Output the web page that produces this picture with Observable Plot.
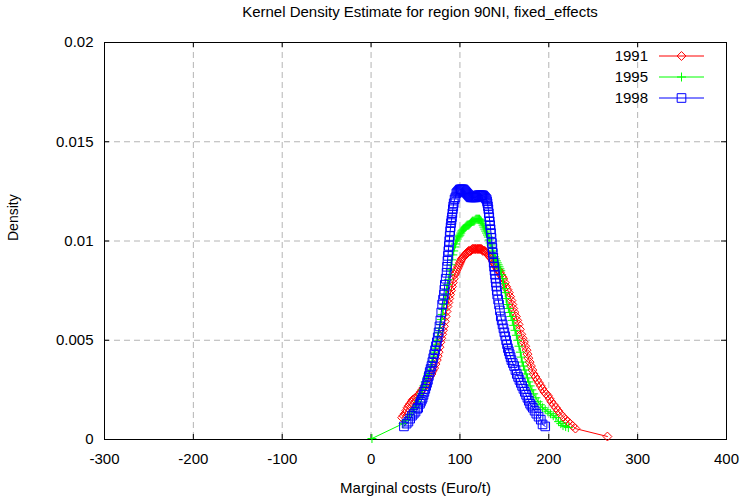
<!DOCTYPE html>
<html>
<head>
<meta charset="utf-8">
<script src="https://cdn.jsdelivr.net/npm/d3@7"></script>
<script src="https://cdn.jsdelivr.net/npm/@observablehq/plot@0.6"></script>
<style>
  html, body { margin: 0; padding: 0; background: #fff; }
  body { width: 741px; height: 501px; overflow: hidden; font-family: "Liberation Sans", Arial, sans-serif; }
  #title { height: 24px; line-height: 24px; font-size: 15px; text-align: center; padding-left: 99px; color: #000; }
</style>
</head>
<body>
<div id="title">Kernel Density Estimate for region 90NI, fixed_effects</div>
<div id="chart"></div>
<script>
// ---- data ----
const years = ["1991", "1995", "1998"];
const xTicks = [-300, -200, -100, 0, 100, 200, 300, 400];
const yTicks = [0, 0.005, 0.01, 0.015, 0.02];

const x1991 = [35, 36.5, 38, 39.5, 41, 42.5, 44, 45.5, 47, 48.5, 50, 51.5, 53, 54.5, 56, 57.5, 59, 60.5, 62, 63.5, 65, 66.5, 68, 69.5, 71, 72.5, 74, 75, 76, 77, 78, 79, 80, 81, 82, 83, 84, 85, 86, 87, 88, 89, 90, 91, 92, 93, 94, 95, 96, 97, 98, 99, 100, 101, 102, 103, 104, 105, 106, 107, 108, 109, 110, 111, 112, 113, 114, 115, 116, 117, 118, 119, 120, 121, 122, 123, 124, 125, 126, 127, 128, 129, 130, 131, 132, 133, 134, 135, 136, 137, 138, 139, 140, 141, 142, 143, 144, 145, 146, 147.5, 149, 150.5, 152, 153.5, 155, 156.5, 158, 159, 160, 161.5, 163, 164.5, 166, 167.5, 169, 170.5, 172, 173.5, 175, 176, 177, 178.5, 180, 181.5, 183, 185, 187, 189, 191, 193, 195, 197, 199, 201, 203, 205.5, 208, 210.5, 213, 216, 219, 221.5, 224, 227, 230, 266];
const y1991 = [0.0011, 0.0012, 0.0013, 0.00145, 0.0016, 0.0017, 0.0018, 0.0019, 0.0020, 0.00205, 0.0021, 0.00215, 0.0022, 0.0023, 0.0024, 0.0025, 0.0026, 0.0027, 0.0028, 0.00295, 0.0031, 0.0032, 0.0033, 0.00345, 0.0036, 0.0038, 0.0040, 0.0042, 0.0044, 0.00465, 0.0049, 0.0051, 0.0053, 0.0055, 0.0057, 0.00595, 0.0062, 0.00645, 0.0067, 0.0069, 0.0071, 0.0073, 0.0075, 0.0077, 0.0079, 0.0081, 0.0083, 0.0084, 0.0085, 0.0086, 0.0087, 0.0088, 0.0089, 0.0090, 0.0091, 0.00915, 0.0092, 0.00925, 0.0093, 0.00935, 0.0094, 0.00945, 0.0095, 0.0095, 0.0095, 0.00955, 0.0096, 0.0096, 0.0096, 0.0096, 0.0096, 0.0096, 0.0096, 0.0096, 0.0096, 0.0096, 0.0096, 0.00955, 0.0095, 0.0095, 0.0095, 0.00945, 0.0094, 0.00935, 0.0093, 0.00925, 0.0092, 0.00915, 0.0091, 0.0090, 0.0089, 0.00885, 0.0088, 0.0087, 0.0086, 0.00855, 0.0085, 0.0084, 0.0083, 0.0082, 0.0081, 0.0079, 0.0077, 0.00755, 0.0074, 0.0072, 0.0070, 0.0068, 0.0066, 0.0064, 0.0062, 0.0060, 0.0058, 0.00555, 0.0053, 0.0051, 0.0049, 0.0047, 0.0045, 0.0043, 0.0041, 0.0039, 0.0037, 0.0035, 0.0033, 0.00315, 0.0030, 0.00285, 0.0027, 0.00255, 0.0024, 0.0023, 0.0022, 0.00205, 0.0019, 0.00175, 0.0016, 0.00145, 0.0013, 0.00115, 0.0010, 0.0009, 0.0008, 0.00068, 0.00055, 0.00015];

const x1995 = [1, 36, 39, 42, 44, 47, 49, 51, 53, 55, 56.5, 58, 59.5, 61, 62.5, 64, 65.5, 67, 68.5, 70, 71, 72, 73, 74, 75, 76, 77, 78, 79, 80, 81, 82, 83, 84, 85, 86, 87, 88, 89, 90, 91, 92, 93, 94, 95, 96, 97, 98, 99, 100, 101, 102, 103, 104, 105, 106, 107, 108, 109, 110, 111, 112, 113, 114, 115, 116, 117, 118, 119, 120, 121, 122, 123, 124, 125, 126, 127, 128, 129, 130, 131, 132, 133, 134, 135, 136, 137, 138, 139, 140, 141, 142, 143, 144, 145, 146, 147, 148, 149, 150, 151, 152, 153, 154.5, 156, 157.5, 159, 160.5, 162, 163.5, 165, 166.5, 168, 169, 170, 171.5, 173, 174.5, 176, 177.5, 179, 181, 183, 185.5, 188, 190.5, 193, 196, 199, 202, 205, 208, 211, 213.5, 216, 219, 222];
const y1995 = [0.00005, 0.0008, 0.00095, 0.0011, 0.00125, 0.0014, 0.00155, 0.0017, 0.0019, 0.0021, 0.0023, 0.0025, 0.0027, 0.0029, 0.0031, 0.0033, 0.0035, 0.0037, 0.00395, 0.0042, 0.0044, 0.0046, 0.0048, 0.0050, 0.0052, 0.0054, 0.0056, 0.0058, 0.00605, 0.0063, 0.00655, 0.0068, 0.00705, 0.0073, 0.00755, 0.0078, 0.00805, 0.0083, 0.00855, 0.0088, 0.00905, 0.0093, 0.0095, 0.0097, 0.00985, 0.0100, 0.0101, 0.0102, 0.01025, 0.0103, 0.0104, 0.0105, 0.01055, 0.0106, 0.01065, 0.0107, 0.01075, 0.0108, 0.0108, 0.0108, 0.01085, 0.0109, 0.01095, 0.0110, 0.0110, 0.0110, 0.01105, 0.0111, 0.0111, 0.0111, 0.0111, 0.0111, 0.01105, 0.0110, 0.0109, 0.0108, 0.0107, 0.0106, 0.0105, 0.0104, 0.0103, 0.0102, 0.01005, 0.0099, 0.0098, 0.00965, 0.0095, 0.00935, 0.0092, 0.0091, 0.0090, 0.0089, 0.0088, 0.0087, 0.0086, 0.0085, 0.0083, 0.0081, 0.00785, 0.0076, 0.0074, 0.0071, 0.0068, 0.0066, 0.0064, 0.0062, 0.0060, 0.00575, 0.0055, 0.00525, 0.0050, 0.0047, 0.0044, 0.00415, 0.0039, 0.0037, 0.0035, 0.0033, 0.0031, 0.0029, 0.0027, 0.0025, 0.0023, 0.0021, 0.0019, 0.00175, 0.0016, 0.0015, 0.0014, 0.0013, 0.0012, 0.0011, 0.0009, 0.0008, 0.0007, 0.00065, 0.0006];

const x1998 = [37, 40, 42, 44, 46, 48, 50, 52, 53, 55, 56, 57, 58, 59, 60, 61, 62, 63, 64, 65, 66, 67, 68, 69, 70, 71, 72, 73, 74, 75, 76, 77, 78, 79, 80, 81, 82, 82.5, 83, 84, 85, 85.5, 86, 86.5, 87, 87.5, 88, 88.5, 89, 89.5, 90, 90.5, 91, 91.5, 92, 92.5, 93, 94, 95, 96, 97, 98, 99, 100, 101, 102, 103, 104, 105, 106, 107, 108, 109, 110, 111, 112, 113, 114, 115, 116, 117, 118, 119, 120, 121, 122, 123, 124, 125, 126, 127, 128, 129, 130, 130.5, 131, 131.5, 132, 132.5, 133, 133.5, 134, 134.5, 135, 135.5, 136, 136.5, 137, 137.5, 138, 138.5, 139, 139.5, 140, 140.5, 141, 141.5, 142, 143, 144, 145, 146, 147, 148, 149, 150, 151, 152, 153, 154, 155, 156, 157, 158, 159.5, 161, 162.5, 164, 165.5, 167, 168.5, 170, 171.5, 173, 174.5, 176, 177.5, 179, 180.5, 182, 184, 186, 188.5, 191, 193, 196];
const y1998 = [0.00066, 0.0008, 0.0009, 0.00105, 0.0012, 0.0013, 0.0014, 0.00155, 0.0016, 0.0018, 0.0019, 0.0020, 0.0021, 0.00225, 0.0024, 0.00255, 0.0027, 0.00285, 0.0030, 0.0032, 0.0034, 0.00355, 0.0037, 0.0039, 0.0041, 0.0043, 0.0045, 0.0047, 0.0049, 0.00515, 0.0054, 0.0057, 0.0060, 0.0064, 0.0068, 0.00705, 0.0073, 0.00755, 0.0078, 0.0081, 0.0084, 0.0087, 0.0090, 0.00925, 0.0095, 0.00975, 0.0100, 0.01025, 0.0105, 0.0107, 0.0109, 0.01105, 0.0112, 0.0114, 0.0116, 0.01175, 0.0119, 0.0121, 0.0122, 0.0124, 0.01245, 0.0125, 0.01255, 0.0126, 0.0126, 0.0126, 0.0126, 0.0126, 0.01255, 0.0125, 0.01245, 0.0124, 0.01235, 0.0123, 0.01225, 0.0122, 0.0122, 0.0122, 0.0122, 0.0122, 0.0122, 0.0122, 0.01225, 0.0123, 0.0123, 0.0123, 0.0123, 0.0123, 0.0123, 0.0123, 0.01225, 0.0122, 0.01215, 0.0121, 0.0120, 0.0119, 0.01175, 0.0116, 0.0114, 0.0112, 0.0110, 0.0108, 0.0106, 0.0104, 0.01015, 0.0099, 0.00965, 0.0094, 0.00915, 0.0089, 0.0087, 0.0085, 0.0083, 0.0081, 0.0079, 0.0077, 0.0075, 0.0073, 0.00705, 0.0068, 0.0065, 0.0062, 0.0060, 0.0058, 0.0056, 0.0054, 0.0052, 0.0050, 0.0048, 0.0046, 0.00445, 0.0043, 0.00415, 0.0040, 0.00385, 0.0037, 0.0035, 0.0033, 0.00315, 0.0030, 0.00285, 0.0027, 0.00255, 0.0024, 0.00225, 0.0021, 0.00195, 0.0018, 0.0017, 0.0016, 0.00145, 0.0013, 0.00115, 0.0010, 0.00076, 0.00066];

// ---- styling ----
const colors = ["#ff0000", "#00ff00", "#0000ff"];
const plotSymbols = ["diamond2", "plus", "square2"];
const symbolR = [4, 3, 5.5];
const d3Symbols = [d3.symbolDiamond2, d3.symbolPlus, d3.symbolSquare2];

const seriesX = [x1991, x1995, x1998];
const seriesY = [y1991, y1995, y1998];
const series = years.map((yr, i) => seriesX[i].map((x, j) => ({x, y: seriesY[i][j], year: yr})));

const W = 741, H = 477;
const M = {top: 18, right: 15, bottom: 62, left: 104};
const frameH = H - M.top - M.bottom;
const frameW = W - M.left - M.right;
const font = "'Liberation Sans', Arial, sans-serif";

const marks = [
  Plot.gridX(xTicks.slice(1, -1), {stroke: "#b4b4b4", strokeOpacity: 1, strokeDasharray: "6,4"}),
  Plot.gridY(yTicks.slice(1, -1), {stroke: "#b4b4b4", strokeOpacity: 1, strokeDasharray: "6,4"}),
  Plot.ruleX(xTicks, {insetTop: frameH - 5, stroke: "#000"}),
  Plot.ruleX(xTicks, {insetBottom: frameH - 5, stroke: "#000"}),
  Plot.ruleY(yTicks, {insetRight: frameW - 5, stroke: "#000"}),
  Plot.ruleY(yTicks, {insetLeft: frameW - 5, stroke: "#000"}),
  Plot.axisX(xTicks, {tickSize: 0, tickPadding: 14, tickFormat: d => String(d), fontSize: 15, label: null}),
  Plot.axisY(yTicks, {tickSize: 0, tickPadding: 11, tickFormat: d => String(d), fontSize: 15, label: null}),
  Plot.frame({stroke: "#000", strokeWidth: 1})
];
series.forEach((s, i) => {
  marks.push(Plot.line(s, {x: "x", y: "y", stroke: colors[i], strokeWidth: 1}));
  marks.push(Plot.dot(s, {x: "x", y: "y", symbol: () => plotSymbols[i], r: symbolR[i], stroke: colors[i], strokeWidth: 1, fill: "none"}));
});
marks.push(Plot.text(["Marginal costs (Euro/t)"], {frameAnchor: "bottom", dy: 53, fontSize: 15, fill: "#000"}));
marks.push(Plot.text(["Density"], {frameAnchor: "left", dx: -91, rotate: -90, fontSize: 14, fill: "#000"}));

const chart = Plot.plot({
  width: W,
  height: H,
  marginTop: M.top, marginRight: M.right, marginBottom: M.bottom, marginLeft: M.left,
  style: {fontFamily: font, fontSize: "15px", color: "#000", background: "#fff"},
  x: {domain: [-300, 400]},
  y: {domain: [0, 0.02]},
  symbol: {type: "identity"},
  marks
});
document.getElementById("chart").appendChild(chart);

// ---- legend (top right, inside frame) ----
const svg = d3.select(chart);
const lg = svg.append("g").attr("class", "legend").attr("font-family", font);
const xRight = W - M.right;
years.forEach((yr, i) => {
  const cy = M.top + 14 + i * 21;
  lg.append("text").attr("x", xRight - 78).attr("y", cy).attr("dy", "0.35em")
    .attr("text-anchor", "end").attr("font-size", 15).attr("fill", "#000").text(yr);
  lg.append("line").attr("x1", xRight - 67).attr("x2", xRight - 22).attr("y1", cy).attr("y2", cy)
    .attr("stroke", colors[i]).attr("stroke-width", 1);
  lg.append("path").attr("transform", `translate(${xRight - 44.5},${cy})`)
    .attr("d", d3.symbol(d3Symbols[i], Math.PI * symbolR[i] * symbolR[i])())
    .attr("fill", "none").attr("stroke", colors[i]).attr("stroke-width", 1);
});
</script>
</body>
</html>
